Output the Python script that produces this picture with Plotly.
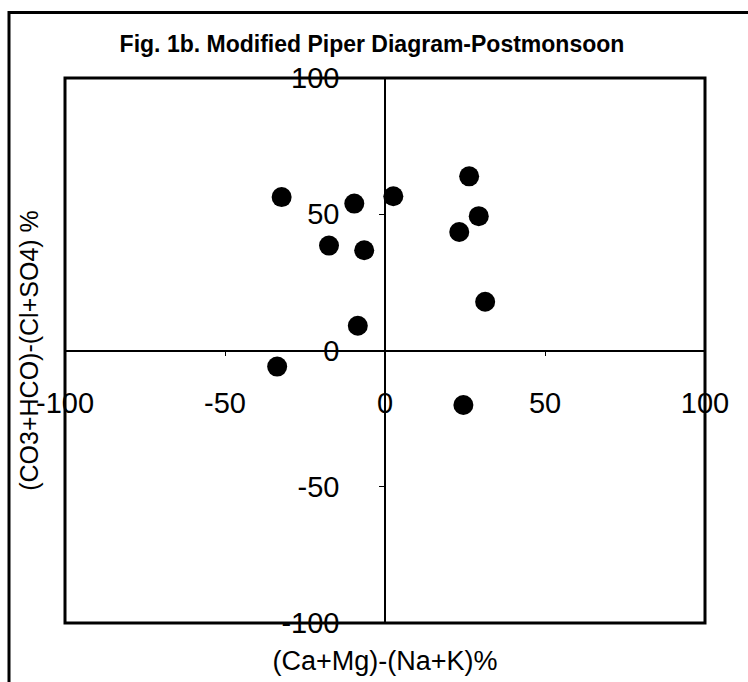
import plotly.graph_objects as go

# Sample positions: cation difference (x) vs anion difference (y), in %
cation_diff = [-32.3, -9.6, 2.6, 26.3, 29.3, 23.2, -17.5, -6.5, 31.3, -8.5, -33.7, 24.5]
anion_diff = [56.3, 53.9, 56.6, 63.9, 49.3, 43.5, 38.5, 36.8, 17.9, 9.1, -5.9, -20.0]

tick_values = [-100, -50, 0, 50, 100]
tick_labels = ["-100", "-50", "0", "50", "100"]

title_text = "Fig. 1b. Modified Piper Diagram-Postmonsoon"
x_title = "(Ca+Mg)-(Na+K)%"
y_title = "(CO3+HCO)-(Cl+SO4) %"

W, H = 748, 682
L, R, T, B = 65, 43, 78, 59
pw, ph = W - L - R, H - T - B

FONT = "Liberation Sans, Arial, sans-serif"

fig = go.Figure()

# titles live on the outer axes
fig.add_trace(go.Scatter(x=[], y=[], xaxis="x", yaxis="y", showlegend=False,
                         hoverinfo="skip"))

# the samples, plotted on the crossing axes
fig.add_trace(go.Scatter(
    x=cation_diff, y=anion_diff, xaxis="x2", yaxis="y2",
    mode="markers",
    marker=dict(size=20, color="black", line=dict(width=0)),
    showlegend=False,
))

axis_common = dict(range=[-100, 100], showgrid=False, zeroline=False,
                   fixedrange=True)

fig.update_layout(
    width=W, height=H,
    margin=dict(l=L, r=R, t=T, b=B, autoexpand=False),
    paper_bgcolor="white", plot_bgcolor="white",
    font=dict(family=FONT, color="black"),
    title=dict(text=title_text, x=372 / W, xref="container", xanchor="center",
               y=1 - 43.5 / H, yref="container", yanchor="middle",
               font=dict(family=FONT, size=23, color="black", weight="bold")),
    xaxis=dict(**axis_common, showline=False, showticklabels=False, ticks="",
               title=dict(text=x_title, font=dict(size=27), standoff=28),
               automargin=False),
    yaxis=dict(**axis_common, showline=False, showticklabels=False, ticks="",
               title=dict(text=y_title, font=dict(size=25), standoff=18),
               automargin=False),
    xaxis2=dict(**axis_common, overlaying="x", anchor="free", position=0.5,
                showline=True, linecolor="black", linewidth=1.5,
                ticks="outside", ticklen=5, tickwidth=1, tickcolor="black",
                tickvals=tick_values, ticktext=tick_labels,
                tickfont=dict(size=29), ticklabelstandoff=22,
                automargin=False),
    yaxis2=dict(**axis_common, overlaying="y", anchor="free", position=0.5,
                showline=True, linecolor="black", linewidth=1.5,
                ticks="outside", ticklen=5, tickwidth=1, tickcolor="black",
                tickvals=tick_values, ticktext=tick_labels,
                tickfont=dict(size=29), ticklabelstandoff=34,
                automargin=False),
    shapes=[
        # plot frame
        dict(type="rect", xref="paper", yref="paper", x0=0, x1=1, y0=0, y1=1,
             line=dict(color="black", width=3), layer="above"),
        # outer border of the figure
        dict(type="rect", xref="paper", yref="paper",
             x0=(9 - L) / pw, x1=(770 - L) / pw,
             y0=(H - B - 700) / ph, y1=(H - B - 12.5) / ph,
             line=dict(color="black", width=3), layer="above"),
    ],
)

fig.write_html("out.html")
